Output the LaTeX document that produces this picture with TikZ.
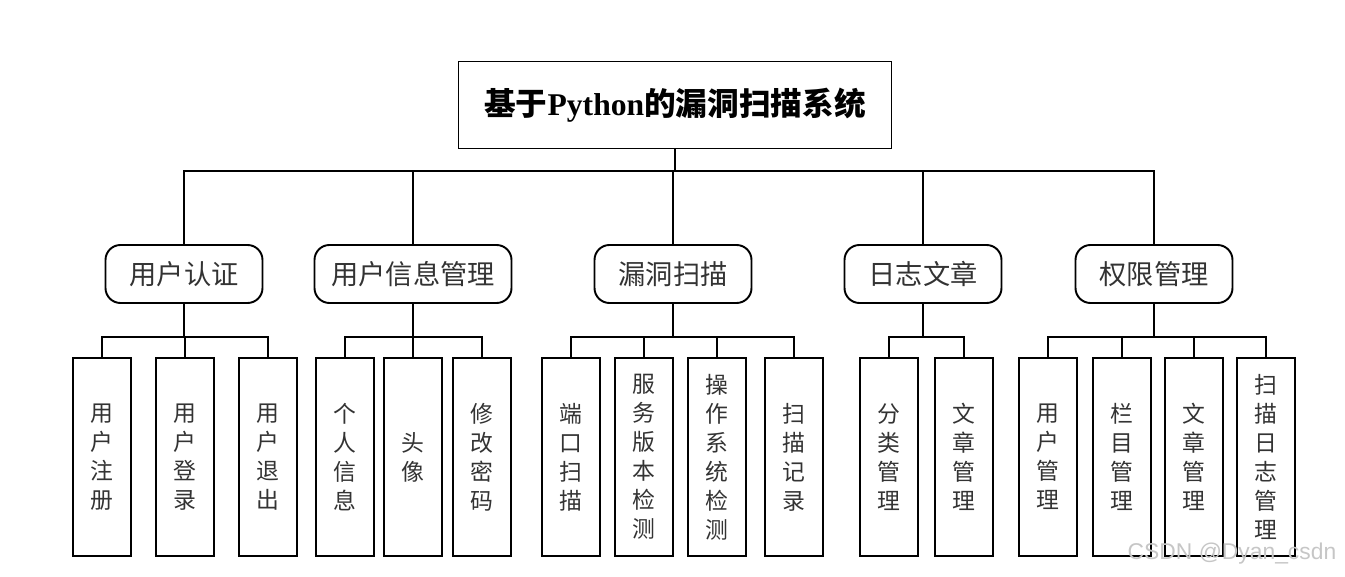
\documentclass[tikz,border=0pt]{standalone}
\usepackage{fontspec}
\setmainfont{Noto Sans CJK SC}
\newfontfamily\pyfont{Liberation Serif}
\newfontfamily\wmfont{Liberation Sans}
\usepackage{tikz}
\usetikzlibrary{positioning,calc}
\tikzset{
  root/.style={draw, line width=1.1pt, minimum width=86.6mm, minimum height=17.4mm, inner sep=0pt, font=\fontsize{18}{21}\selectfont\bfseries},
  mod/.style={draw, rounded corners=3mm, line width=1.1pt, minimum width=31.4mm, minimum height=11.6mm, inner sep=0pt, text=black!80, font=\fontsize{15.5}{18}\selectfont},
  leaf/.style={draw, line width=1.1pt, minimum width=11.6mm, minimum height=39.6mm, inner sep=0pt, align=center, text=black!80, font=\fontsize{13}{16.5}\selectfont},
  link/.style={line width=1.1pt},
}

\begin{document}
\begin{tikzpicture}[x=0.2mm, y=-0.2mm]
  \useasboundingbox (0,0) rectangle (1345,577);
  \node[root] (sys) at (675,105) {基于{\pyfont Python}的漏洞扫描系统};
  \coordinate (bus0) at (675,171);

  \node[mod] (auth) at (184,274) {用户认证};
  \node[mod, minimum width=39.4mm] (info) at (413,274) {用户信息管理};
  \node[mod] (scan) at (673,274) {漏洞扫描};
  \node[mod] (blog) at (923,274) {日志文章};
  \node[mod] (perm) at (1154,274) {权限管理};

  \node[leaf] (a1) at (102,457) {用\\户\\注\\册};
  \node[leaf] (a2) at (185,457) {用\\户\\登\\录};
  \node[leaf] (a3) at (268,457) {用\\户\\退\\出};
  \node[leaf] (i1) at (345,457) {个\\人\\信\\息};
  \node[leaf] (i2) at (413,457) {头\\像};
  \node[leaf] (i3) at (482,457) {修\\改\\密\\码};
  \node[leaf] (s1) at (571,457) {端\\口\\扫\\描};
  \node[leaf] (s2) at (644,457) {服\\务\\版\\本\\检\\测};
  \node[leaf] (s3) at (717,457) {操\\作\\系\\统\\检\\测};
  \node[leaf] (s4) at (794,457) {扫\\描\\记\\录};
  \node[leaf] (b1) at (889,457) {分\\类\\管\\理};
  \node[leaf] (b2) at (964,457) {文\\章\\管\\理};
  \node[leaf] (p1) at (1048,457) {用\\户\\管\\理};
  \node[leaf] (p2) at (1122,457) {栏\\目\\管\\理};
  \node[leaf] (p3) at (1194,457) {文\\章\\管\\理};
  \node[leaf] (p4) at (1266,457) {扫\\描\\日\\志\\管\\理};

  \coordinate (bus1) at (184,337);
  \coordinate (bus2) at (413,337);
  \coordinate (bus3) at (673,337);
  \coordinate (bus4) at (923,337);
  \coordinate (bus5) at (1154,337);

  \draw[link] (sys.south) -- (bus0);
  \draw[link] (auth.north) |- (bus0);
  \draw[link] (info.north) |- (bus0);
  \draw[link] (scan.north) |- (bus0);
  \draw[link] (blog.north) |- (bus0);
  \draw[link] (perm.north) |- (bus0);

  \draw[link] (auth.south) -- (bus1);
  \draw[link] (a1.north) |- (bus1);
  \draw[link] (a2.north) |- (bus1);
  \draw[link] (a3.north) |- (bus1);
  \draw[link] (info.south) -- (bus2);
  \draw[link] (i1.north) |- (bus2);
  \draw[link] (i2.north) |- (bus2);
  \draw[link] (i3.north) |- (bus2);
  \draw[link] (scan.south) -- (bus3);
  \draw[link] (s1.north) |- (bus3);
  \draw[link] (s2.north) |- (bus3);
  \draw[link] (s3.north) |- (bus3);
  \draw[link] (s4.north) |- (bus3);
  \draw[link] (blog.south) -- (bus4);
  \draw[link] (b1.north) |- (bus4);
  \draw[link] (b2.north) |- (bus4);
  \draw[link] (perm.south) -- (bus5);
  \draw[link] (p1.north) |- (bus5);
  \draw[link] (p2.north) |- (bus5);
  \draw[link] (p3.north) |- (bus5);
  \draw[link] (p4.north) |- (bus5);

  \node[text=gray!45, font=\wmfont\fontsize{13}{15}\selectfont, inner sep=0pt] (wm) at (1232,554) {CSDN @Dyan\_csdn};
\end{tikzpicture}
\end{document}
